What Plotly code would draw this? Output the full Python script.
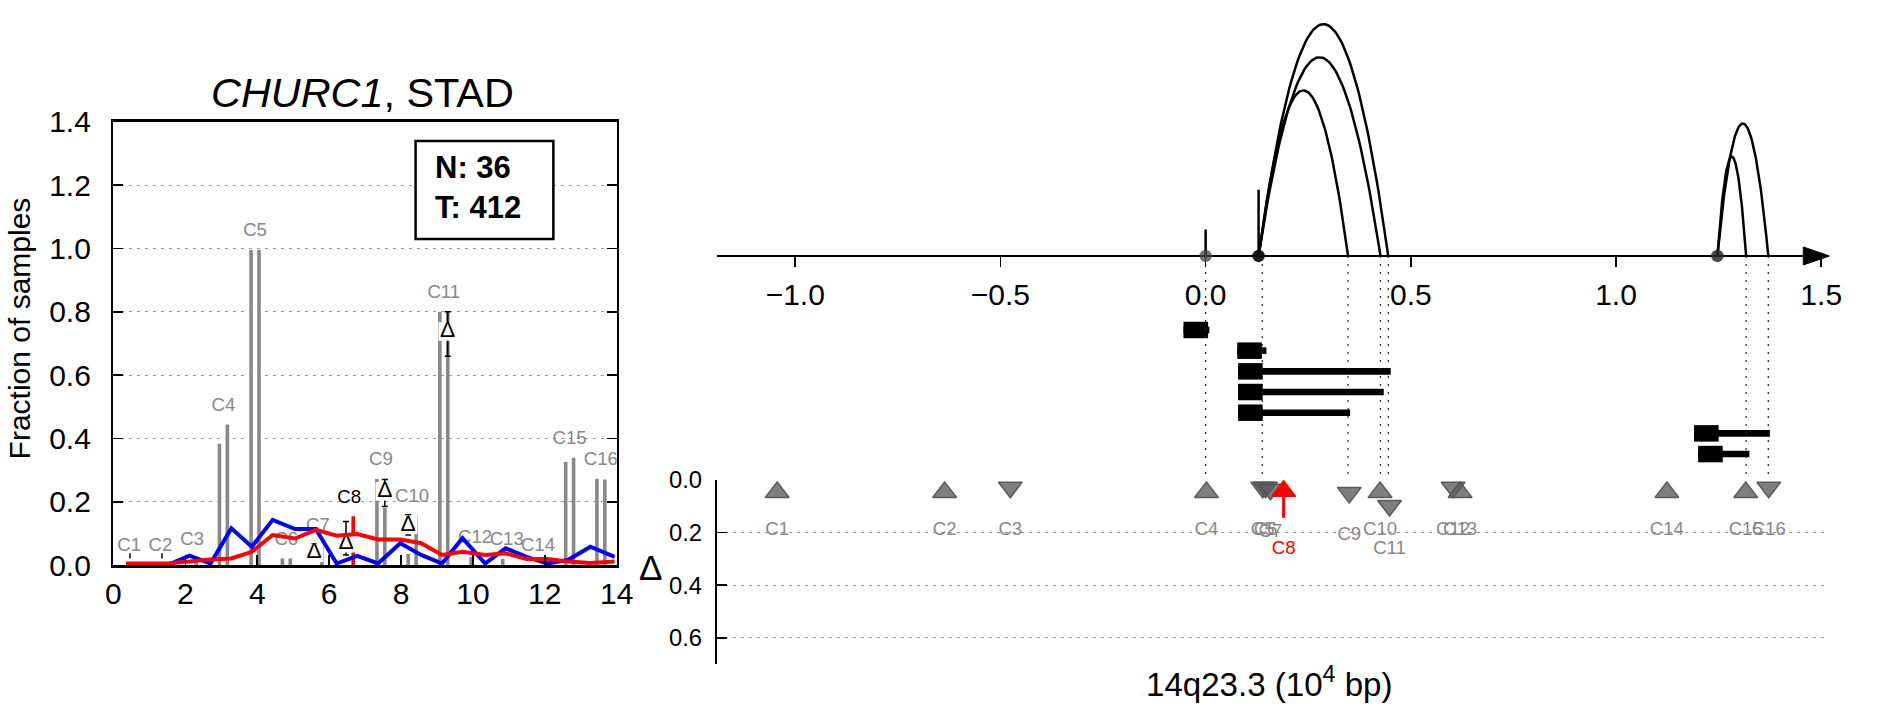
import math
import plotly.graph_objects as go

W, H = 1887, 718
FONT = "Liberation Sans, Arial, sans-serif"

# The captured picture is framed with a small border and rescaled to W x H;
# positions below are given in picture pixels and mapped back to page space.
FRAME = 18
SX = W / (W + 2 * FRAME)
SY = H / (H + 2 * FRAME)
K = 1 / math.sqrt(SX * SY)


def PX(rx):
    return (rx / SX - FRAME) / W


def PY(ry):
    return 1 - (ry / SY - FRAME) / H


def fs(v):
    return round(v * K, 1)


# ---------------- left panel data ----------------
gene = "CHURC1"
cancer = "STAD"
n_normal = 36
n_tumor = 412
cluster_names = ["C1", "C2", "C3", "C4", "C5", "C6", "C7", "C8",
                 "C9", "C10", "C11", "C12", "C13", "C14", "C15", "C16"]
cluster_x = [0.44, 1.31, 2.19, 3.06, 3.94, 4.81, 5.69, 6.56,
             7.44, 8.31, 9.19, 10.06, 10.94, 11.81, 12.69, 13.56]
normal_frac = [0.0, 0.0, 0.0, 0.383, 0.995, 0.021, 0.0, 0.0,
               0.272, 0.035, 0.800, 0.025, 0.020, 0.0, 0.326, 0.273]
tumor_frac = [0.0, 0.0, 0.020, 0.444, 0.995, 0.021, 0.063, 0.154,
              0.180, 0.156, 0.800, 0.0, 0.0, 0.0, 0.339, 0.270]
highlight = "C8"

delta_x = [5.58, 6.47, 7.55, 8.20, 9.30]
delta_mid = [0.039, 0.069, 0.233, 0.127, 0.738]
delta_lo = [0.012, 0.032, 0.185, 0.095, 0.660]
delta_hi = [0.067, 0.138, 0.270, 0.159, 0.800]

small_err_x = [0.46, 1.35]
small_err_lo = [0.021, 0.021]
small_err_hi = [0.037, 0.037]

line_x = [0.35, 0.97, 1.55, 2.12, 2.70, 3.28, 3.85, 4.43, 5.05, 5.63, 6.21, 6.78,
          7.36, 7.98, 8.56, 9.14, 9.71, 10.34, 10.91, 11.49, 12.07, 12.64, 13.27, 13.94]
blue_vals = [0.0, 0.0, 0.002, 0.030, 0.005, 0.116, 0.058, 0.143, 0.114, 0.114, 0.005, 0.029,
             0.005, 0.069, 0.032, 0.005, 0.085, 0.005, 0.053, 0.026, 0.005, 0.016, 0.058, 0.026]
red_vals = [0.005, 0.005, 0.006, 0.011, 0.018, 0.021, 0.042, 0.095, 0.084, 0.111, 0.093, 0.098,
            0.081, 0.081, 0.069, 0.032, 0.042, 0.032, 0.037, 0.019, 0.019, 0.011, 0.007, 0.011]

left_xticks = [0, 2, 4, 6, 8, 10, 12, 14]
left_yticks = [0.0, 0.2, 0.4, 0.6, 0.8, 1.0, 1.2, 1.4]

# ---------------- right panel data ----------------
axis_ticks = [-1.0, -0.5, 0.0, 0.5, 1.0, 1.5]
arc_start = [0.129, 0.129, 0.129, 1.247, 1.247, 0.0, 0.129]
arc_end = [0.445, 0.426, 0.347, 1.371, 1.317, 0.0, 0.129]
arc_height = [7.0, 6.0, 5.0, 4.0, 3.0, 0.8, 2.0]
site_x = [0.0, 0.129, 1.247]
guide_x = [0.0, 0.138, 0.347, 0.426, 0.445, 1.317, 1.371]
tx_start = [-0.054, 0.077, 0.079, 0.079, 0.079, 1.190, 1.200]
tx_end = [0.009, 0.148, 0.451, 0.434, 0.352, 1.375, 1.325]

right_x = [-1.044, -0.636, -0.476, 0.002, 0.139, 0.146, 0.158, 0.190,
           0.350, 0.425, 0.448, 0.603, 0.620, 1.124, 1.316, 1.372]
right_delta = [0.037, 0.037, 0.037, 0.037, 0.037, 0.037, 0.045, 0.033,
               0.057, 0.037, 0.107, 0.037, 0.037, 0.037, 0.037, 0.037]
right_dir = ["up", "up", "down", "up", "down", "down", "down", "up",
             "down", "up", "down", "down", "up", "up", "up", "down"]
delta_ticks = [0.0, 0.2, 0.4, 0.6]

# ---------------- layout constants (picture pixels) ----------------
GRAY = "#888888"
BAR_OFF = 0.11
BAR_W = 0.1
LABEL_PAD = 0.058
X_RANGE = [-1.19, 1.52]
RIGHT_L, RIGHT_R = 723, 1829
AXIS_PX = 256
TOP_TOP = 20
UNIT_PX = 33.1
TOP_RANGE = [(AXIS_PX - 480) / UNIT_PX, (AXIS_PX - TOP_TOP) / UNIT_PX]
ROW0 = (AXIS_PX - 330) / UNIT_PX
ROW_STEP = 20.67 / UNIT_PX
SQ_W = 0.06
SQ_H = 16.5 / UNIT_PX
TX_H = 6.6 / UNIT_PX
LOW_PX_PER_UNIT = 262.9
TRI_SIZE = 20 * K
TRI_SHIFT = (TRI_SIZE / 2) / 4 / (LOW_PX_PER_UNIT / SY)
LOW_LABEL_PAD = 0.155
ARROW_LEN = 0.11

fig = go.Figure()

# ---- left: bars
bx, bh, bc = [], [], []
for name, cx, n, t in zip(cluster_names, cluster_x, normal_frac, tumor_frac):
    bx += [cx - BAR_OFF, cx + BAR_OFF]
    bh += [n, t]
    bc += [GRAY, "red" if name == highlight else GRAY]
fig.add_trace(go.Bar(x=bx, y=bh, width=BAR_W, marker=dict(color=bc, line=dict(width=0)),
                     xaxis="x", yaxis="y", hoverinfo="skip"))

# ---- left: cluster labels
lab_y = [max(n, t) + LABEL_PAD for n, t in zip(normal_frac, tumor_frac)]
fig.add_trace(go.Scatter(x=cluster_x, y=lab_y, mode="text", text=cluster_names,
                         textposition="middle center",
                         textfont=dict(size=fs(18), color=["black" if c == highlight else GRAY
                                                           for c in cluster_names]),
                         xaxis="x", yaxis="y", cliponaxis=True, hoverinfo="skip"))

# ---- left: small error marks
sx, sy = [], []
for x, lo, hi in zip(small_err_x, small_err_lo, small_err_hi):
    sx += [x, x, None]
    sy += [lo, hi, None]
fig.add_trace(go.Scatter(x=sx, y=sy, mode="lines", line=dict(color="black", width=1.5),
                         xaxis="x", yaxis="y", hoverinfo="skip"))

# ---- left: delta markers with error bars
fig.add_trace(go.Scatter(
    x=delta_x, y=delta_mid, mode="markers",
    marker=dict(symbol="square", size=18 * K, color="white", line=dict(width=0)),
    error_y=dict(type="data", symmetric=False,
                 array=[h - m for h, m in zip(delta_hi, delta_mid)],
                 arrayminus=[m - l for m, l in zip(delta_mid, delta_lo)],
                 color="black", thickness=1.5, width=3),
    xaxis="x", yaxis="y", hoverinfo="skip"))
fig.add_trace(go.Scatter(x=delta_x, y=delta_mid, mode="text", text=["Δ"] * len(delta_x),
                         textposition="middle center", textfont=dict(size=fs(22), color="black"),
                         xaxis="x", yaxis="y", hoverinfo="skip"))

# ---- left: lines
fig.add_trace(go.Scatter(x=line_x, y=blue_vals, mode="lines", line=dict(color="#0000ff", width=4),
                         xaxis="x", yaxis="y", hoverinfo="skip"))
fig.add_trace(go.Scatter(x=line_x, y=red_vals, mode="lines", line=dict(color="#ff0000", width=4),
                         xaxis="x", yaxis="y", hoverinfo="skip"))

# ---- right top: dotted guides
gx, gy = [], []
for g in guide_x:
    gx += [g, g, None]
    gy += [0, TOP_RANGE[0], None]
fig.add_trace(go.Scatter(x=gx, y=gy, mode="lines", line=dict(color="#222222", width=1.2, dash="2px,6px"),
                         xaxis="x2", yaxis="y2", hoverinfo="skip"))

# ---- right top: transcripts
row_y = [ROW0 - ROW_STEP * i for i in range(len(tx_start))]
fig.add_trace(go.Bar(y=row_y, x=[e - s for s, e in zip(tx_start, tx_end)], base=tx_start,
                     orientation="h", width=TX_H, marker=dict(color="black", line=dict(width=0)),
                     xaxis="x2", yaxis="y2", hoverinfo="skip"))
fig.add_trace(go.Bar(y=row_y, x=[SQ_W] * len(tx_start), base=tx_start,
                     orientation="h", width=SQ_H, marker=dict(color="black", line=dict(width=0)),
                     xaxis="x2", yaxis="y2", hoverinfo="skip"))

# ---- right top: arcs
N_PTS = 80
for s, e, h in zip(arc_start, arc_end, arc_height):
    ts = [i / N_PTS for i in range(N_PTS + 1)]
    fig.add_trace(go.Scatter(x=[s + (e - s) * t for t in ts], y=[4 * h * t * (1 - t) for t in ts],
                             mode="lines", line=dict(color="black", width=2.5),
                             xaxis="x2", yaxis="y2", hoverinfo="skip"))

# ---- right top: sites on axis
fig.add_trace(go.Scatter(x=site_x, y=[0] * len(site_x), mode="markers",
                         marker=dict(size=12 * K, color=["rgba(70,70,70,0.75)", "rgba(15,15,15,0.95)",
                                                         "rgba(40,40,40,0.85)"], line=dict(width=0)),
                         xaxis="x2", yaxis="y2", hoverinfo="skip"))

# arrow head
AW = 26 / ((RIGHT_R - RIGHT_L) / (X_RANGE[1] - X_RANGE[0]))
AH = 9 / UNIT_PX
tip = X_RANGE[1]
fig.add_shape(type="path", xref="x2", yref="y2",
              path=f"M {tip - AW},{AH} L {tip},0 L {tip - AW},{-AH} Z",
              fillcolor="black", line=dict(color="black", width=1))

# ---- right bottom: red arrow for highlight
for name, x, d in zip(cluster_names, right_x, right_delta):
    if name == highlight:
        fig.add_trace(go.Scatter(x=[x, x], y=[d, d + ARROW_LEN], mode="lines",
                                 line=dict(color="red", width=3), xaxis="x3", yaxis="y3",
                                 hoverinfo="skip"))

# ---- right bottom: triangles
tri_y = [d + TRI_SHIFT if r == "up" else d - TRI_SHIFT for d, r in zip(right_delta, right_dir)]
fig.add_trace(go.Scatter(
    x=right_x, y=tri_y, mode="markers",
    marker=dict(symbol=["triangle-up" if r == "up" else "triangle-down" for r in right_dir],
                size=TRI_SIZE,
                color=["red" if c == highlight else "rgba(95,95,95,0.8)" for c in cluster_names],
                line=dict(width=1.5, color=["red" if c == highlight else "rgba(80,80,80,0.9)"
                                            for c in cluster_names])),
    xaxis="x3", yaxis="y3", cliponaxis=False, hoverinfo="skip"))

low_lab_y = [d + LOW_LABEL_PAD + (ARROW_LEN * 0.7 if c == highlight else 0)
             for c, d in zip(cluster_names, right_delta)]
fig.add_trace(go.Scatter(
    x=right_x, y=low_lab_y, mode="text", text=cluster_names, textposition="middle center",
    textfont=dict(size=fs(18), color=["red" if c == highlight else GRAY for c in cluster_names]),
    xaxis="x3", yaxis="y3", cliponaxis=False, hoverinfo="skip"))

# ---------------- shapes / annotations ----------------
fig.add_shape(type="rect", xref="paper", yref="paper",
              x0=PX(423), x1=PX(560), y0=PY(239), y1=PY(141),
              line=dict(color="black", width=2.5), fillcolor="white", layer="above")

annotations = [
    dict(text=f"<i>{gene}</i>, {cancer}", x=PX(370), y=PY(93), xref="paper", yref="paper",
         showarrow=False, xanchor="center", yanchor="middle", font=dict(size=fs(40), color="black")),
    dict(text="Fraction of samples", x=PX(30), y=PY(328), xref="paper", yref="paper",
         showarrow=False, textangle=-90, xanchor="center", yanchor="middle",
         font=dict(size=fs(29), color="black")),
    dict(text=f"<b>N: {n_normal}</b><br><b>T: {n_tumor}</b>", x=PX(440), y=PY(188),
         xref="paper", yref="paper", showarrow=False, xanchor="left", yanchor="middle",
         align="left", font=dict(size=fs(30), color="black")),
    dict(text="Δ", x=PX(657), y=PY(567), xref="paper", yref="paper", showarrow=False,
         xanchor="center", yanchor="middle", font=dict(size=fs(34), color="black")),
    dict(text="14q23.3 (10<sup>4</sup> bp)", x=PX(1272), y=PY(682), xref="paper", yref="paper",
         showarrow=False, xanchor="center", yanchor="middle", font=dict(size=fs(32), color="black")),
]

fig.update_layout(
    width=W, height=H, margin=dict(l=0, r=0, t=0, b=0, pad=0),
    paper_bgcolor="white", plot_bgcolor="white", showlegend=False, barmode="overlay",
    font=dict(family=FONT, color="black"),
    annotations=annotations,
    xaxis=dict(domain=[PX(122.5), PX(623)], range=[0, 14], anchor="y", tickvals=left_xticks,
               ticks="inside", ticklen=10, tickwidth=1.5, tickcolor="black",
               showline=True, linewidth=2.5, linecolor="black", mirror=True,
               showgrid=False, zeroline=False, tickfont=dict(size=fs(29)), ticklabelstandoff=0),
    yaxis=dict(domain=[PY(565), PY(122)], range=[0, 1.4], anchor="x", tickvals=left_yticks,
               tickformat=".1f", ticks="inside", ticklen=10, tickwidth=1.5, tickcolor="black",
               showline=True, linewidth=2.5, linecolor="black", mirror="ticks",
               showgrid=True, gridcolor="#999999", gridwidth=1, griddash="3px,5px",
               zeroline=False, tickfont=dict(size=fs(29)), ticklabelstandoff=14),
    xaxis2=dict(domain=[PX(RIGHT_L), PX(RIGHT_R)], range=X_RANGE, anchor="free",
                position=PY(AXIS_PX), side="bottom", tickvals=axis_ticks, tickformat=".1f",
                ticks="outside", ticklen=10, tickwidth=1.5, tickcolor="black",
                showline=True, linewidth=2.5, linecolor="black", showgrid=False, zeroline=False,
                tickfont=dict(size=fs(29)), layer="below traces", ticklabelstandoff=2),
    yaxis2=dict(domain=[PY(480), PY(TOP_TOP)], range=TOP_RANGE, anchor="x2", visible=False),
    xaxis3=dict(domain=[PX(RIGHT_L), PX(RIGHT_R)], range=X_RANGE, anchor="y3", visible=False),
    yaxis3=dict(domain=[PY(664), PY(480)], range=[0.7, 0], anchor="x3", tickvals=delta_ticks,
                tickformat=".1f", ticks="inside", ticklen=10, tickwidth=1.5, tickcolor="black",
                showline=True, linewidth=2.5, linecolor="black",
                showgrid=True, gridcolor="#999999", gridwidth=1, griddash="3px,5px",
                zeroline=False, tickfont=dict(size=fs(23)), ticklabelstandoff=8),
)

fig.write_html("out.html",
               config={"displayModeBar": False, "staticPlot": True},
               post_script="document.body.style.margin='0px';"
                           "document.documentElement.style.overflow='hidden';")
